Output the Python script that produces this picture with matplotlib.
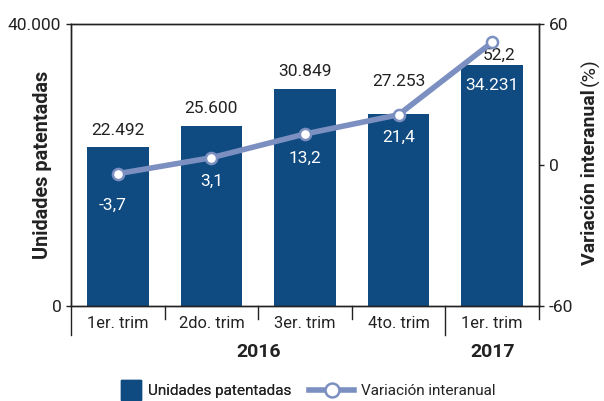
import matplotlib
matplotlib.use("Agg")
import matplotlib.pyplot as plt
from matplotlib.lines import Line2D

categories = ["1er. trim", "2do. trim", "3er. trim", "4to. trim", "1er. trim"]
years = ["2016", "2017"]
unidades = [22492, 25600, 30849, 27253, 34231]
variacion = [-3.7, 3.1, 13.2, 21.4, 52.2]
unidades_labels = ["22.492", "25.600", "30.849", "27.253", "34.231"]
variacion_labels = ["-3,7", "3,1", "13,2", "21,4", "52,2"]

BAR = "#0f4a80"
LINE = "#7b8fc0"
TXT = "#222222"

plt.rcParams['font.family'] = ['Roboto', 'DejaVu Sans']

W, H = 604, 401
fig = plt.figure(figsize=(6.04, 4.01), dpi=100)
ax = fig.add_axes([71/W, 1-306/H, (539-71)/W, (306-24)/H])
ax2 = ax.twinx()

x = list(range(len(categories)))
ax.bar(x, unidades, width=0.66, color=BAR, zorder=2)
ax.set_xlim(-0.5, 4.5)
ax.set_ylim(0, 40000)
ax.set_yticks([0, 40000])
ax.set_yticklabels(["0", "40.000"])
ax.set_xticks([])
ax2.set_ylim(-60, 60)
ax2.set_yticks([-60, 0, 60])
ax2.set_yticklabels(["-60", "0", "60"])

for a in (ax, ax2):
    for s in a.spines.values():
        s.set_color("#222222")
        s.set_linewidth(1.0)
    a.tick_params(axis='y', length=3.5, width=1, colors="#222222", labelsize=12.5, labelcolor=TXT, pad=3.5)

ax2.plot(x, variacion, color=LINE, lw=4, marker='o', ms=8, mfc='white', mec=LINE, mew=1.8, zorder=5)
ax.set_zorder(1)
ax2.set_zorder(2)

# bar value labels
bar_offsets = [17, 17, 17, 32, -21]
for i, (v, lab) in enumerate(zip(unidades, unidades_labels)):
    off = bar_offsets[i]
    col = 'white' if off < 0 else TXT
    ax2.annotate(lab, xy=(i, v/40000*120-60), xytext=(0, off/1.389), textcoords='offset points',
                 ha='center', va='center', fontsize=12.5, color=col)

# line value labels
line_offsets = [(-5, -32), (0, -24), (0, -24), (0, -23), (7, -13)]
for i, (v, lab) in enumerate(zip(variacion, variacion_labels)):
    dx, dy = line_offsets[i]
    col = TXT if i == 4 else 'white'
    ax2.annotate(lab, xy=(i, v), xytext=(dx/1.389, dy/1.389), textcoords='offset points',
                 ha='center', va='center', fontsize=12.5, color=col)

# category labels and separators
trans = ax.get_xaxis_transform()
for i, c in enumerate(categories):
    ax.text(i, -17/282, c, transform=trans, ha='center', va='center', fontsize=11.8, color=TXT)
for b in [-0.5, 0.5, 1.5, 2.5, 3.5, 4.5]:
    long = b in (-0.5, 3.5)
    ln = 29 if long else 13
    ax.plot([b, b], [0, -ln/282], transform=trans, color="#222222", lw=1, clip_on=False)
ax.text(1.5, -46/282, years[0], transform=trans, ha='center', va='center', fontsize=14, fontweight='bold', color=TXT)
ax.text(4, -46/282, years[1], transform=trans, ha='center', va='center', fontsize=14, fontweight='bold', color=TXT)

ax.set_ylabel("Unidades patentadas", fontsize=14.3, fontweight='bold', color=TXT)
ax.yaxis.set_label_coords(-19/468, 0.5)
ax2.set_ylabel("")

# right axis label: bold part + normal "(%)"
t1 = fig.text(590/W, 1-265/H, "Variación interanual", rotation=90, ha='center', va='bottom',
              fontsize=14, fontweight='bold', color=TXT)
fig.canvas.draw()
bb = t1.get_window_extent()
fig.text(590/W, (bb.y1 + 3)/H, "(%)", rotation=90, ha='center', va='bottom',
         fontsize=14, color=TXT)

# legend
h1 = Line2D([0], [0], color='none', marker='s', ms=15, mfc=BAR, mec=BAR)
leg1 = fig.legend([h1], ["Unidades patentadas"], loc='center left',
                  bbox_to_anchor=(114/W, 1-391/H), frameon=False, fontsize=11,
                  handlelength=1.2, handletextpad=0.5, borderpad=0, labelcolor=TXT)
h2 = Line2D([0], [0], color=LINE, lw=4, marker='o', ms=10, mfc='white', mec=LINE, mew=1.8)
leg2 = fig.legend([h2], ["Variación interanual"], loc='center left',
                  bbox_to_anchor=(301/W, 1-391/H), frameon=False, fontsize=11,
                  handlelength=3.0, handletextpad=0.4, borderpad=0, labelcolor=TXT)
fig.add_artist(leg1)

fig.savefig("out.png", dpi=100)
